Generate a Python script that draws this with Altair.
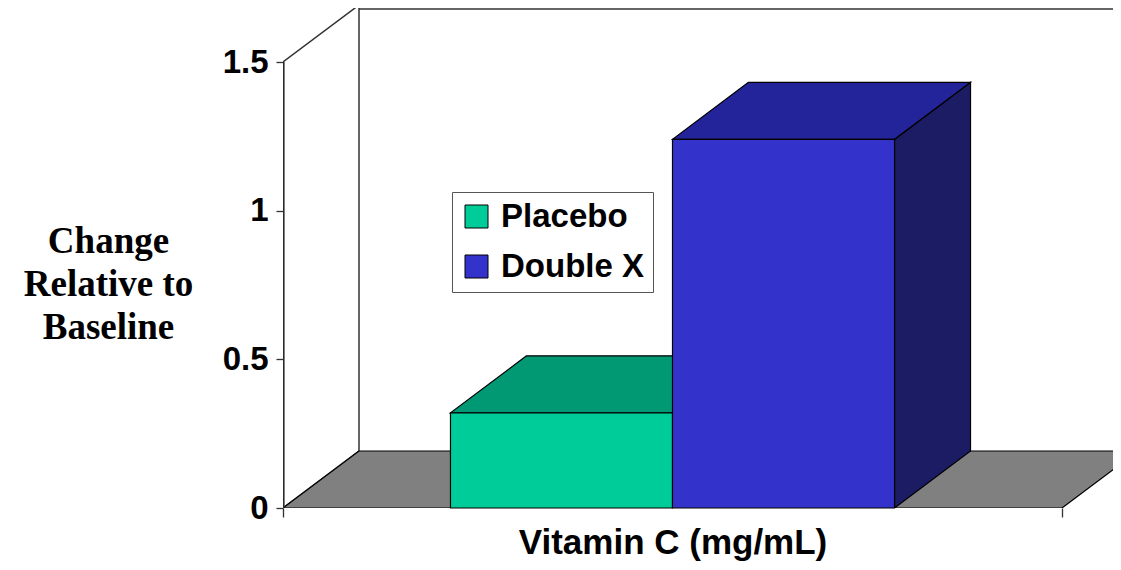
import altair as alt
import pandas as pd

# ---- data ----
groups = ["Placebo", "Double X"]
values = [0.32, 1.24]
front_colors = ["#00CC99", "#3333CC"]
top_colors = ["#009973", "#24249A"]
side_colors = ["#007A5C", "#1C1C64"]
y_ticks = [0, 0.5, 1, 1.5]
x_title = "Vitamin C (mg/mL)"
y_title = ["Change", "Relative to", "Baseline"]

# ---- layout / style ----
W, H = 830, 500            # plot area (px)
AXIS_PX = 779              # front category axis length (px)
PX_PER_UNIT = 446 / 1.5    # px per value unit
XMAX = W / AXIS_PX
YMAX = H / PX_PER_UNIT
DX = 76 / AXIS_PX          # 3-D depth, x
DY = 57 / PX_PER_UNIT      # 3-D depth, y
LINE_W = 1.6 / AXIS_PX     # thickness of the front axis line
BAR_W = 0.285              # bar width as fraction of the category
CENTER = 0.5
TOP = y_ticks[-1]
WALL_TOP = min(TOP + DY, YMAX)

xs = alt.Scale(domain=[0, XMAX], nice=False, zero=False)
ys = alt.Scale(domain=[0, YMAX], nice=False, zero=False)

# bar geometry
bars = []
start = CENTER - BAR_W * len(groups) / 2
for i, (g, v) in enumerate(zip(groups, values)):
    x0 = start + i * BAR_W
    bars.append(dict(bar=g, v=v, x0=x0, x1=x0 + BAR_W,
                     front=front_colors[i], top=top_colors[i], side=side_colors[i]))

front_df = pd.DataFrame([dict(bar=b["bar"], x=b["x0"], x2=b["x1"], y=0, y2=b["v"]) for b in bars])
top_rows, side_rows = [], []
for b in bars:
    top_rows.append(dict(bar=b["bar"], fill=b["top"], y=b["v"], x=b["x0"], x2=b["x1"]))
    top_rows.append(dict(bar=b["bar"], fill=b["top"], y=b["v"] + DY, x=b["x0"] + DX, x2=b["x1"] + DX))
    side_rows.append(dict(bar=b["bar"], fill=b["side"], x=b["x1"], y=0, y2=b["v"]))
    side_rows.append(dict(bar=b["bar"], fill=b["side"], x=b["x1"] + DX, y=DY, y2=b["v"] + DY))
top_df = pd.DataFrame(top_rows)
side_df = pd.DataFrame(side_rows)

floor_df = pd.DataFrame([
    dict(k="floor", y=0, x=0, x2=1),
    dict(k="floor", y=DY, x=DX, x2=1 + DX),
])

# left side wall as a face
left_wall_df = pd.DataFrame([
    dict(k="wall", x=0.0, y=0.0, y2=TOP),
    dict(k="wall", x=DX, y=DY, y2=TOP + DY),
])
# front value-axis line, drawn as a thin filled strip
axis_line_df = pd.DataFrame([dict(x=0.0, x2=LINE_W, y=0.0, y2=TOP)])
wall_top_df = pd.DataFrame([dict(x=DX, x2=XMAX, y=WALL_TOP)])

y_axis = alt.Axis(
    values=y_ticks, format=".1~f", grid=False, domain=False,
    tickSize=7, tickColor="#333333", tickWidth=1.3,
    labelFont="Liberation Sans", labelFontSize=33, labelFontWeight="bold",
    labelColor="black", labelPadding=8,
    title=y_title, titleAngle=0, titleFont="Liberation Serif", titleFontSize=37,
    titleFontWeight="bold", titleColor="black", titleAlign="center",
    titleBaseline="alphabetic", titleX=-175, titleY=244, titleLineHeight=43,
)
x_axis = alt.Axis(
    values=[0, 1], labels=False, domain=False, grid=False,
    tickSize=9, tickColor="#333333", tickWidth=1.3,
    title=x_title, titleFont="Liberation Sans", titleFontSize=35,
    titleFontWeight="bold", titleColor="black",
    titleX=AXIS_PX / 2, titleY=45, titleBaseline="alphabetic", titleAlign="center",
)


def X(f="x"):
    return alt.X(f + ":Q", scale=xs, axis=x_axis)


def Y(f="y"):
    return alt.Y(f + ":Q", scale=ys, axis=y_axis)


left_wall = alt.Chart(left_wall_df).mark_area(
    orient="vertical", color="white", stroke="#333333", strokeWidth=1.5, clip=True
).encode(x=X(), y=Y(), y2="y2:Q", detail="k:N")

axis_line = alt.Chart(axis_line_df).mark_rect(
    color="#2a2a2a", strokeWidth=0
).encode(x=X(), x2="x2:Q", y=Y(), y2="y2:Q")

wall_top = alt.Chart(wall_top_df).mark_rule(
    color="#333333", strokeWidth=1.4, yOffset=1
).encode(x=X(), x2="x2:Q", y=Y())

floor = alt.Chart(floor_df).mark_area(
    orient="horizontal", color="#808080", stroke="black", strokeWidth=1.2, clip=True
).encode(y=Y(), x=X(), x2="x2:Q")

sides = alt.Chart(side_df).mark_area(
    orient="vertical", stroke="black", strokeWidth=1.2, clip=True
).encode(
    x=X(), y=Y(), y2="y2:Q",
    fill=alt.Fill("fill:N", scale=None),
    detail="bar:N",
)

tops = alt.Chart(top_df).mark_area(
    orient="horizontal", stroke="black", strokeWidth=1.2, clip=True
).encode(
    y=Y(), x=X(), x2="x2:Q",
    fill=alt.Fill("fill:N", scale=None),
    detail="bar:N",
)

fronts = alt.Chart(front_df).mark_rect(stroke="black", strokeWidth=1.2).encode(
    x=X(), x2="x2:Q", y=Y(), y2="y2:Q",
    color=alt.Color("bar:N", scale=alt.Scale(domain=groups, range=front_colors),
                    legend=alt.Legend(
                        orient="none", legendX=169, legendY=184, title=None,
                        padding=8, rowPadding=16, symbolType="square", symbolSize=529,
                        symbolStrokeColor="black", symbolStrokeWidth=1,
                        labelFont="Liberation Sans", labelFontSize=33,
                        labelFontWeight="bold", labelColor="black", labelOffset=8,
                        labelLimit=400, strokeColor="#555555", fillColor="white",
                    )),
)

chart = alt.layer(wall_top, left_wall, floor, sides, tops, fronts, axis_line).properties(
    width=W, height=H, background="white",
    autosize=alt.AutoSizeParams(type="none"),
    padding={"left": 275, "top": 0, "right": 0, "bottom": 54},
).configure_view(strokeWidth=0, stroke="transparent")

chart.save("out.html", embed_options={"renderer": "svg", "actions": False})
